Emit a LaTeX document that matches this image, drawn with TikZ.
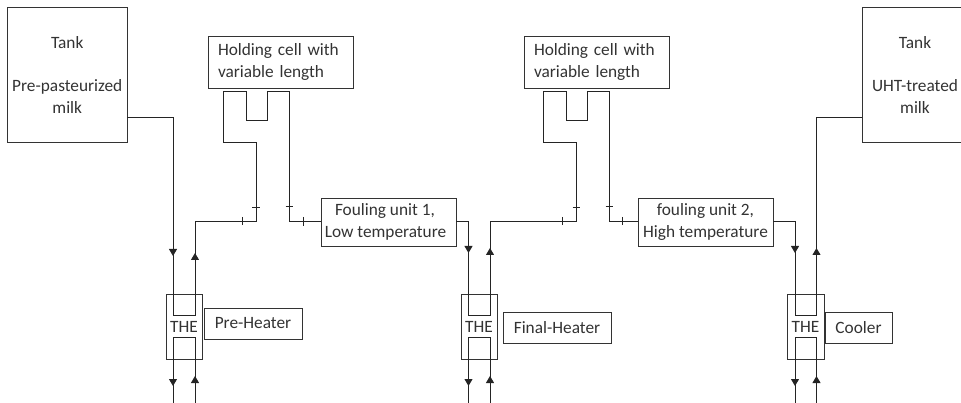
\documentclass[tikz,border=0pt]{standalone}
\usepackage{fontspec}
\setmainfont{Carlito}
\usetikzlibrary{arrows.meta}

\definecolor{inkgray}{gray}{0.2}
\tikzset{
  unit/.style={draw=inkgray, line width=0.9pt, text=inkgray, inner sep=0pt, align=center, font=\fontsize{17.3}{21.5}\selectfont},
  pipe/.style={draw=inkgray!70!black, line width=1pt},
  flow/.style={pipe, -{Triangle[length=7pt,width=8pt]}}
}

\begin{document}
\begin{tikzpicture}[x=1pt, y=-1pt]
\useasboundingbox (0, 0) rectangle (961, 403);
\clip (0, 0) rectangle (961, 403);

\node [unit, minimum width=119.5, minimum height=135.5] (tankA) at (67.25, 74.75) {Tank\\[21.5pt]Pre-pasteurized\\milk};
\node [unit, minimum width=106, minimum height=135.5] (tankB) at (915, 74.75) {Tank\\[21.5pt]UHT-treated\\milk};

\node [unit, minimum width=145, minimum height=52, text width=125, align=left] (cellA) at (280.5, 62) {Holding cell with\\variable length};
\node [unit, minimum width=145, minimum height=52, text width=125, align=left] (cellB) at (596.5, 62) {Holding cell with\\variable length};

\node [unit, minimum width=135, minimum height=48] (foulA) at (388.5, 222) {Fouling unit 1,\hspace*{7pt}\\Low temperature\hspace*{6pt}};
\node [unit, minimum width=135, minimum height=48] (foulB) at (705.5, 222) {fouling unit 2,\\High temperature};

\node [unit, minimum width=36, minimum height=65] (theA) at (184, 326.5) {THE};
\node [unit, minimum width=36, minimum height=65] (theB) at (479, 326.5) {THE};
\node [unit, minimum width=37, minimum height=65] (theC) at (805.5, 326.5) {THE};

\node [unit, minimum width=98, minimum height=31] (preheat) at (253, 323.5) {Pre-Heater};
\node [unit, minimum width=108, minimum height=31] (finalheat) at (557, 327.5) {Final-Heater};
\node [unit, minimum width=67, minimum height=31] (cooler) at (858.5, 327.5) {Cooler};

\coordinate (tankAout) at (127, 117.5);
\coordinate (tankBin) at (862, 117.5);

% feed and heating loops
\draw [pipe] (tankAout) -| (173, 316) -- (195, 316) |- (256, 221.5) |- (223.5, 143) |- (246, 92) |- (267, 121) |- (289, 92) |- (foulA.west);
\draw [pipe] (foulA.east) -| (468.5, 316) -- (490, 316) |- (576, 221.5) |- (543, 143) |- (566, 92) |- (587, 121) |- (609, 92) |- (foulB.west);
\draw [pipe] (foulB.east) -| (795, 316) -- (816.5, 316) |- (tankBin);

\draw [pipe] (173, 403) -- (173, 337) -- (195, 337) -- (195, 403);
\draw [pipe] (468.5, 403) -- (468.5, 337) -- (490, 337) -- (490, 403);
\draw [pipe] (795, 403) -- (795, 337) -- (816.5, 337) -- (816.5, 403);

% arrows
\draw [flow] (173, 240) -- (173, 256);
\draw [flow] (195, 270) -- (195, 253);
\draw [flow] (173, 370) -- (173, 386);
\draw [flow] (195, 392) -- (195, 376);
\draw [flow] (468.5, 240) -- (468.5, 253);
\draw [flow] (490, 270) -- (490, 248);
\draw [flow] (468.5, 370) -- (468.5, 386);
\draw [flow] (490, 392) -- (490, 376);
\draw [flow] (795, 240) -- (795, 253);
\draw [flow] (816.5, 270) -- (816.5, 248);
\draw [flow] (795, 370) -- (795, 386);
\draw [flow] (816.5, 392) -- (816.5, 376);

% ticks
\draw [pipe] (252, 208) -- (259.5, 208);
\draw [pipe] (242, 217) -- (242, 225);
\draw [pipe] (285.5, 207) -- (293, 207);
\draw [pipe] (303, 217) -- (303, 226);
\draw [pipe] (572.5, 208) -- (580, 208);
\draw [pipe] (562, 217) -- (562, 225);
\draw [pipe] (605.5, 207) -- (613, 207);
\draw [pipe] (622.5, 217) -- (622.5, 225);
\end{tikzpicture}
\end{document}
